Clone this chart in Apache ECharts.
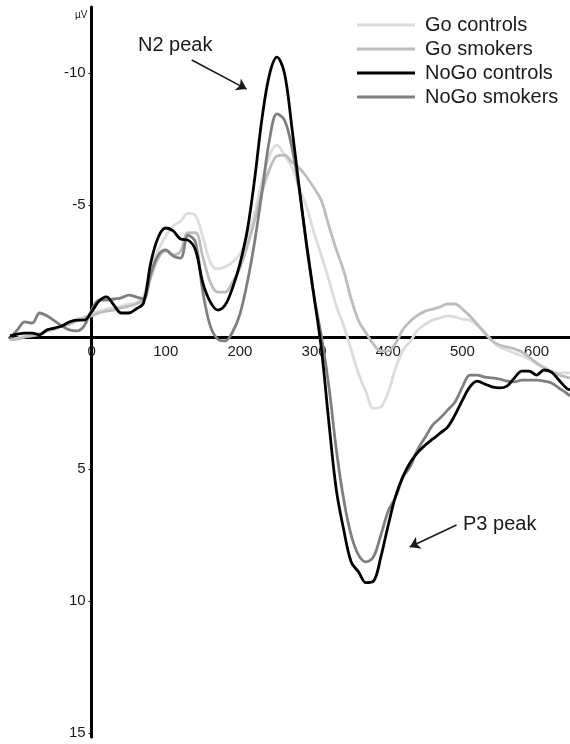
<!DOCTYPE html>
<html>
<head>
<meta charset="utf-8">
<script src="https://cdn.jsdelivr.net/npm/echarts@6/dist/echarts.min.js"></script>
<style>html,body{margin:0;padding:0;background:#fff}#c{width:570px;height:744px}</style>
</head>
<body>
<div id="c"></div>
<script>
// time points (ms)
const times = [-110,-100,-90,-80,-70,-60,-50,-40,-30,-20,-10,0,10,20,30,40,50,60,70,80,90,100,110,120,130,140,150,160,170,180,190,200,210,220,230,240,250,260,270,280,290,300,310,320,330,340,350,360,370,380,390,400,410,420,430,440,450,460,470,480,490,500,510,520,530,540,550,560,570,580,590,600,610,620,630,640,645];

// amplitudes (µV), negative up
const goControls = [0.11,0.04,-0.04,-0.08,-0.15,-0.23,-0.34,-0.45,-0.57,-0.68,-0.76,-0.87,-0.98,-1.06,-1.10,-1.17,-1.25,-1.29,-1.55,-2.65,-3.30,-3.83,-4.20,-4.39,-4.68,-4.60,-3.79,-2.84,-2.58,-2.65,-2.84,-3.14,-3.79,-4.70,-5.95,-6.89,-7.27,-6.89,-6.44,-5.64,-4.92,-3.94,-3.07,-2.16,-1.17,-0.42,0.49,1.40,2.08,2.70,2.65,2.08,1.17,0.49,0.15,-0.27,-0.49,-0.64,-0.72,-0.80,-0.76,-0.68,-0.64,-0.42,-0.19,0.15,0.38,0.49,0.61,0.72,0.83,1.02,1.14,1.29,1.36,1.36,1.36];
const goSmokers = [0.11,0.08,0.0,-0.04,-0.11,-0.23,-0.30,-0.42,-0.49,-0.61,-0.72,-0.80,-0.91,-0.98,-1.02,-1.10,-1.17,-1.25,-1.44,-2.27,-2.99,-3.26,-3.11,-3.26,-3.95,-3.95,-3.03,-2.08,-1.70,-1.70,-2.08,-2.61,-3.45,-4.43,-5.53,-6.36,-6.86,-6.89,-6.63,-6.40,-6.06,-5.64,-5.15,-4.20,-3.30,-2.50,-1.44,-0.61,-0.15,0.27,0.53,0.53,0.23,-0.30,-0.61,-0.83,-0.98,-1.06,-1.14,-1.25,-1.25,-1.06,-0.80,-0.49,-0.15,0.15,0.30,0.38,0.45,0.57,0.76,0.98,1.17,1.33,1.44,1.52,1.55];
const nogoControls = [-0.04,-0.11,-0.15,-0.15,-0.08,-0.27,-0.34,-0.42,-0.57,-0.64,-0.64,-0.95,-1.36,-1.52,-1.21,-0.91,-0.91,-1.06,-1.29,-2.84,-3.79,-4.13,-4.02,-3.71,-3.67,-3.30,-2.05,-1.33,-1.02,-1.21,-1.86,-2.77,-4.05,-6.02,-8.33,-9.96,-10.6,-10.0,-7.95,-5.64,-3.48,-1.52,0.49,3.26,5.80,7.31,8.52,8.90,9.30,9.25,8.33,7.12,6.02,5.27,4.73,4.36,4.09,3.86,3.64,3.41,2.95,2.39,1.89,1.67,1.78,1.89,1.93,1.86,1.55,1.29,1.29,1.44,1.25,1.33,1.63,1.93,2.01];
const nogoSmokers = [0.04,-0.27,-0.57,-0.53,-0.91,-0.80,-0.61,-0.42,-0.27,-0.23,-0.42,-1.02,-1.40,-1.40,-1.44,-1.48,-1.59,-1.52,-1.44,-2.42,-3.11,-3.30,-3.07,-2.99,-3.85,-3.60,-1.70,-0.42,0.08,0.15,-0.19,-0.87,-2.08,-3.64,-5.53,-7.50,-8.45,-8.22,-7.20,-5.57,-3.41,-1.52,0.0,1.89,4.28,6.17,7.50,8.26,8.52,8.33,7.50,6.59,6.06,5.30,4.89,4.24,3.79,3.33,3.07,2.77,2.46,1.89,1.44,1.44,1.52,1.55,1.59,1.67,1.70,1.63,1.63,1.63,1.67,1.74,1.93,2.12,2.23];

const xTicks = [0,100,200,300,400,500,600];
const yTicks = [-10,-5,5,10,15];
const seriesNames = ['Go controls','Go smokers','NoGo controls','NoGo smokers'];
const seriesColors = ['#dcdcdc','#bdbdbd','#000000','#7f7f7f'];
// annotation arrows in data space [ms, µV]
const n2Arrow = [[135,-10.49],[209,-9.39]];
const p3Arrow = [[492,7.12],[429,7.95]];

const font = '"Liberation Sans", Arial, sans-serif';
const textColor = '#1a1a1a';
const grid = {left:10, right:0, top:7, bottom:7, containLabel:false, outerBoundsMode:'none'};

function pairs(v){ return times.map((t,i)=>[t,v[i]]); }
function lineSeries(name, values, color, extra){
  return Object.assign({
    name: name, type:'line', data: pairs(values), smooth:0.35, symbol:'none', showSymbol:false,
    lineStyle:{color:color, width:2.8}, itemStyle:{color:color}, silent:true
  }, extra||{});
}

const chart = echarts.init(document.getElementById('c'));
chart.setOption({
  animation:false,
  backgroundColor:'#fff',
  grid: grid,
  xAxis:{
    type:'value', min:-110, max:645, position:'bottom', offset:0,
    axisLine:{onZero:false, lineStyle:{color:'#000', width:3}},
    axisTick:{show:false},
    splitLine:{show:false},
    axisLabel:{customValues:xTicks, fontSize:15, color:textColor, fontFamily:font, margin:7}
  },
  yAxis:{
    type:'value', inverse:true, min:-12.5, max:15.15, position:'left', offset:0,
    axisLine:{onZero:false, lineStyle:{color:'#000', width:3}},
    axisTick:{show:true, customValues:yTicks, length:3, lineStyle:{color:'#000', width:1}},
    splitLine:{show:false},
    axisLabel:{customValues:yTicks, fontSize:15, color:textColor, fontFamily:font, margin:6, padding:[7,0,0,0]}
  },
  legend:{
    orient:'vertical', left:352, top:10, itemWidth:58, itemHeight:3, itemGap:4,
    icon:'rect', selectedMode:false, data:seriesNames,
    textStyle:{fontSize:20, color:textColor, fontFamily:font, padding:[0,0,0,5]}
  },
  graphic:[
    {type:'text', left:138, top:35, style:{text:'N2 peak', fontSize:20, fontFamily:font, fill:textColor}},
    {type:'text', left:463, top:514, style:{text:'P3 peak', fontSize:20, fontFamily:font, fill:textColor}},
    {type:'text', left:75, top:10, style:{text:'µV', fontSize:10, fontFamily:font, fill:textColor}}
  ],
  series:[
    lineSeries(seriesNames[0], goControls, seriesColors[0]),
    lineSeries(seriesNames[1], goSmokers, seriesColors[1]),
    lineSeries(seriesNames[3], nogoSmokers, seriesColors[3]),
    lineSeries(seriesNames[2], nogoControls, seriesColors[2], {
      markLine:{
        silent:true, symbol:['none','arrow'], symbolSize:10, animation:false,
        label:{show:false}, emphasis:{disabled:true},
        lineStyle:{color:'#1a1a1a', width:1.6, type:'solid'},
        data:[
          [{coord:n2Arrow[0]},{coord:n2Arrow[1]}],
          [{coord:p3Arrow[0]},{coord:p3Arrow[1]}]
        ]
      }
    })
  ]
});

// move each axis onto the other's zero using the library's own scale
const x0 = chart.convertToPixel({xAxisIndex:0}, 0);
const y0 = chart.convertToPixel({yAxisIndex:0}, 0);
const gridRect = chart.getModel().getComponent('grid', 0).coordinateSystem.getRect();
chart.setOption({
  xAxis:{offset: -((gridRect.y + gridRect.height) - y0)},
  yAxis:{offset: -(x0 - gridRect.x)}
});
</script>
</body>
</html>
